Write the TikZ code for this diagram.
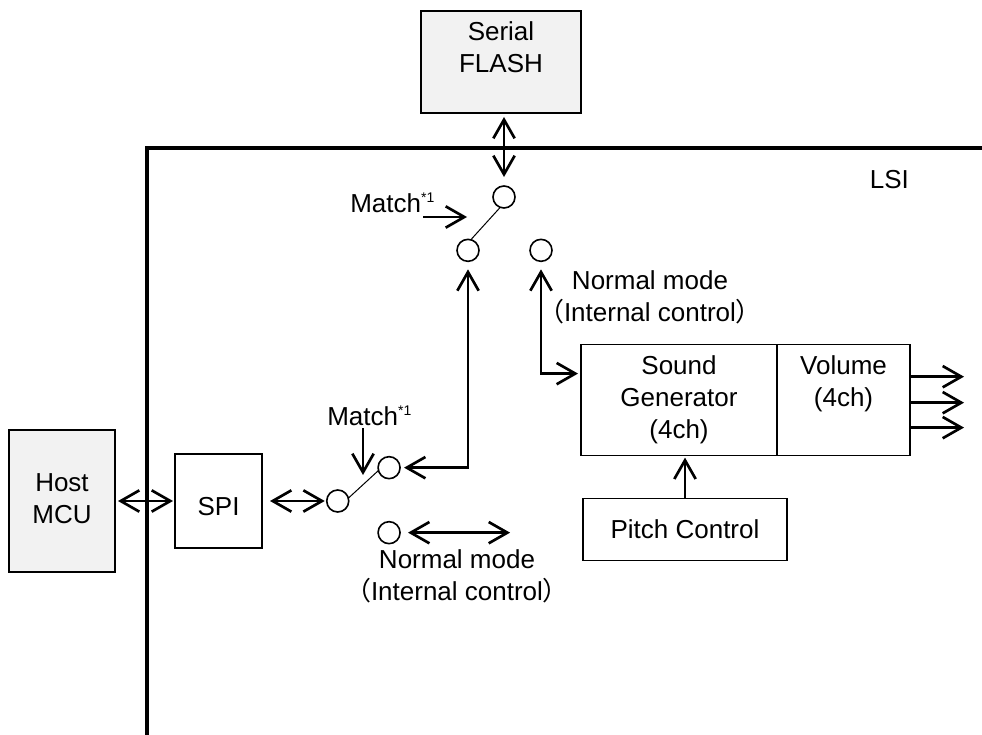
\documentclass[tikz,border=0pt]{standalone}
\usepackage{fontspec}
\setmainfont{Liberation Sans}
\newfontfamily\cjkparen{Noto Sans CJK JP}
\usetikzlibrary{arrows.meta, positioning}
\definecolor{extfill}{RGB}{242,242,242}
\newcommand{\starone}{\raisebox{7.5pt}{\fontsize{10.5pt}{12pt}\selectfont *1}}
\newcommand{\intctrl}{{\cjkparen （}Internal control{\cjkparen ）}}
\tikzset{
  txt/.style={font=\fontsize{19.5pt}{24pt}\selectfont, align=center, inner sep=0pt},
  blockbox/.style={rectangle, txt, draw, line width=1.2pt, outer sep=0pt},
  extbox/.style={blockbox, fill=extfill},
  contact/.style={circle, draw, line width=1.2pt, minimum size=16.5pt, inner sep=0pt, outer sep=0pt},
  lever/.style={line width=0.75pt},
  barb/.tip={Straight Barb[length=14pt, width=16pt, line width=2pt]},
  arr/.style={-barb, line width=1.9pt},
  darr/.style={barb-barb, line width=1.9pt},
  lsiline/.style={line width=3.25pt, miter limit=10},
}
\begin{document}
\begin{tikzpicture}[on grid]
  \useasboundingbox (0,0) rectangle (736.5pt,-551.25pt);

  % LSI boundary
  \coordinate (lsibot) at (110.25pt,-551.25pt);
  \coordinate (lsicorner) at (110.25pt,-111pt);
  \coordinate (lsiright) at (736.5pt,-111pt);
  \draw[lsiline] (lsibot) -- (lsicorner) -- (lsiright);
  \node[txt] (lsi) at (667pt,-135pt) {LSI};

  % External parts
  \node[extbox, minimum width=120pt, minimum height=76.5pt] (flash) at (375.75pt,-46.5pt) {Serial\\FLASH\\[-1pt]~};
  \node[extbox, minimum width=79.5pt, minimum height=106.5pt, text depth=0pt] (host) at (46.5pt,-375.75pt) {Host\\MCU\\[-21pt]~};

  % SPI and its switch
  \node[blockbox, minimum width=65.25pt, minimum height=70.5pt, text height=21.5pt, right=117.4pt of host] (spi) {SPI};
  \node[contact, right=89.4pt of spi] (swbcom) {};
  \node[contact, above right=25pt and 38.5pt of swbcom] (swba) {};
  \node[contact, below=48.75pt of swba] (swbb) {};

  % Flash switch
  \node[contact, below=101.25pt of flash, xshift=2.25pt] (swtcom) {};
  \node[contact, below left=40pt and 27pt of swtcom] (swta) {};
  \node[contact, right=54.75pt of swta] (swtb) {};

  % Sound blocks
  \node[blockbox, minimum width=147pt, minimum height=83.25pt,
        below right=112.35pt and 103.5pt of swtb] (sound) {Sound\\Generator\\(4ch)};
  \node[blockbox, minimum width=99.75pt, minimum height=83.25pt,
        right=123.4pt of sound] (volume) {Volume\\(4ch)\\\phantom{(4ch)}};
  \node[blockbox, minimum width=153pt, minimum height=46.5pt,
        below=97.1pt of sound, xshift=4.5pt] (pitch) {Pitch Control};

  % Labels
  \node[txt, anchor=base west] (matcht) at (262.5pt,-159.5pt) {Match\starone};
  \node[txt, anchor=base west] (matchb) at (245.25pt,-318.75pt) {Match\starone};
  \node[txt] (normalt) at (487.5pt,-223pt) {Normal mode\\\intctrl};
  \node[txt] (normalb) at (342.75pt,-432pt) {Normal mode\\\intctrl};

  % Free ends
  \coordinate (matchtfrom) at (317.25pt,-162.75pt);
  \coordinate[right=33pt of matchtfrom] (matchtto);
  \coordinate (matchbfrom) at (272.25pt,-321pt);
  \coordinate[below=35.25pt of matchbfrom] (matchbto);
  \coordinate[right=82.5pt of swbb.east] (normalbto);
  \coordinate (volo) at ([yshift=17.6pt]volume.east);
  \coordinate (volt) at ([yshift=-1.9pt]volume.east);
  \coordinate (volu) at ([yshift=-20.6pt]volume.east);
  \coordinate[right=40.5pt of volo] (outo);
  \coordinate[right=40.5pt of volt] (outt);
  \coordinate[right=40.5pt of volu] (outu);

  % Switch levers
  \draw[lever] (swta.75) -- (swtcom.250);
  \draw[lever] (swbcom.15) -- (swba.195);

  % Signal flow
  \draw[darr, shorten <=2.25pt, shorten >=1.5pt] (host) -- (spi);
  \draw[darr, shorten <=6pt, shorten >=1.5pt] (spi) -- (swbcom);
  \draw[darr, shorten <=3pt, shorten >=6.75pt] (flash.south -| swtcom) -- (swtcom.north);
  \draw[darr, shorten <=3pt, shorten >=6pt] (swba.east) -| (swta.south);
  \draw[darr, shorten <=6pt, shorten >=2.25pt] (swtb.south) |- ([yshift=19.9pt]sound.west);
  \draw[darr, shorten <=6pt] (swbb.east) -- (normalbto);
  \draw[arr] (matchtfrom) -- (matchtto);
  \draw[arr] (matchbfrom) -- (matchbto);
  \draw[arr, shorten >=1.5pt] (pitch.north) -- (pitch.north |- sound.south);
  \draw[arr] (volo) -- (outo);
  \draw[arr] (volt) -- (outt);
  \draw[arr] (volu) -- (outu);

\end{tikzpicture}
\end{document}
